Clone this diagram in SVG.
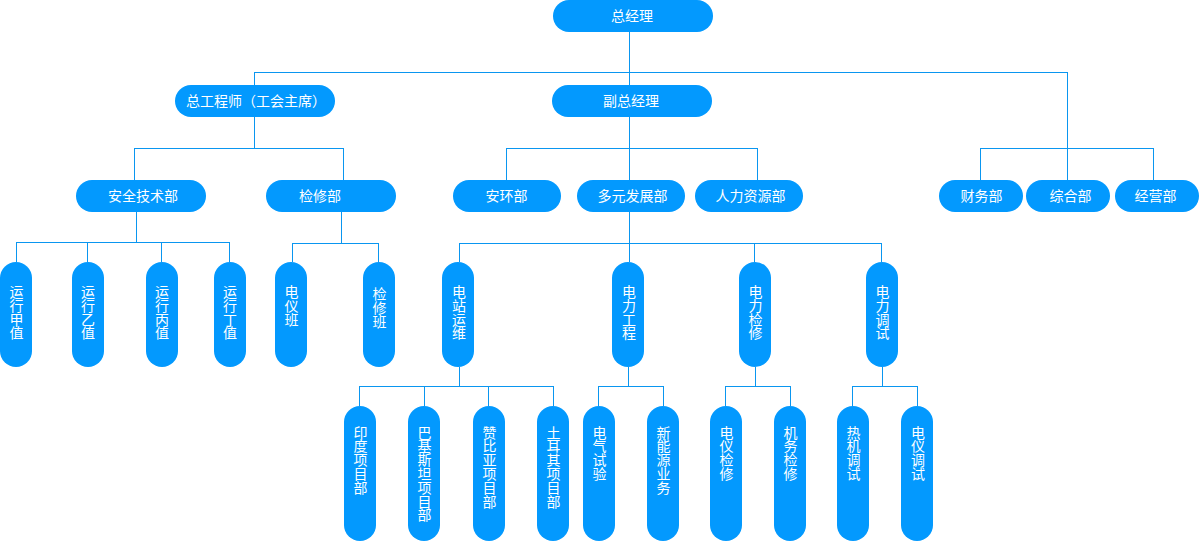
<svg xmlns="http://www.w3.org/2000/svg" width="1199" height="541" viewBox="0 0 1199 541">
<style>
.n{fill:#0399fe}
.t{fill:#fff;font-family:"Noto Sans CJK SC","Microsoft YaHei",sans-serif;font-size:14px;text-anchor:middle}
.c{fill:none;stroke:#0a96f0;stroke-width:1}
</style>
<rect width="1199" height="541" fill="#fff"/>
<g id="connectors" class="c">
<path d="M629.5 32V85M254.5 72.5H1067.5M254.5 72V85M1067.5 72V180"/>
<path d="M254.5 117V148.5M134.5 148.5H343.5M134.5 148V180M343.5 148V180"/>
<path d="M629.5 117V180M506.5 148.5H757.5M506.5 148V180M757.5 148V180"/>
<path d="M980.5 148.5H1153.5M980.5 148V180M1153.5 148V180"/>
<path d="M136.5 212V242.5M16.5 242.5H229.5M16.5 242V262M87.5 242V262M161.5 242V262M229.5 242V262"/>
<path d="M341.5 212V243.5M292.5 243.5H378.5M292.5 243V262M378.5 243V262"/>
<path d="M629.5 212V243.5M459.5 243.5H881.5M459.5 243V262M629.5 243V262M754.5 243V262M881.5 243V262"/>
<path d="M459.5 367V386.5M359.5 386.5H553.5M359.5 386V406M424.5 386V406M488.5 386V406M553.5 386V406"/>
<path d="M628.5 367V386.5M598.5 386.5H663.5M598.5 386V406M663.5 386V406"/>
<path d="M755.5 367V386.5M725.5 386.5H790.5M725.5 386V406M790.5 386V406"/>
<path d="M882.5 367V386.5M852.5 386.5H917.5M852.5 386V406M917.5 386V406"/>
</g>
<g id="n-zjl"><rect class="n" x="553" y="0" width="160" height="32" rx="16"/><text class="t" x="632" y="21">总经理</text></g>
<g id="n-zgcs"><rect class="n" x="175" y="85" width="160" height="32" rx="16"/><text class="t" x="256" y="106">总工程师（工会主席）</text></g>
<g id="n-fzjl"><rect class="n" x="552" y="85" width="160" height="32" rx="16"/><text class="t" x="631" y="106">副总经理</text></g>
<g id="n-aqjsb"><rect class="n" x="76" y="180" width="130" height="32" rx="16"/><text class="t" x="143" y="201">安全技术部</text></g>
<g id="n-jxb"><rect class="n" x="266" y="180" width="130" height="32" rx="16"/><text class="t" x="320" y="201">检修部</text></g>
<g id="n-ahb"><rect class="n" x="453" y="180" width="108" height="32" rx="16"/><text class="t" x="506.5" y="201">安环部</text></g>
<g id="n-dyfzb"><rect class="n" x="577" y="180" width="108" height="32" rx="16"/><text class="t" x="632.5" y="201">多元发展部</text></g>
<g id="n-rlzyb"><rect class="n" x="695" y="180" width="108" height="32" rx="16"/><text class="t" x="750.5" y="201">人力资源部</text></g>
<g id="n-cwb"><rect class="n" x="939" y="180" width="84" height="32" rx="16"/><text class="t" x="981.5" y="201">财务部</text></g>
<g id="n-zhb"><rect class="n" x="1026" y="180" width="84" height="32" rx="16"/><text class="t" x="1070.5" y="201">综合部</text></g>
<g id="n-jyb"><rect class="n" x="1115" y="180" width="84" height="32" rx="16"/><text class="t" x="1155.5" y="201">经营部</text></g>

<g id="n-yxjz"><rect class="n" x="0" y="262" width="32" height="105" rx="16"/><text class="t"><tspan x="16.5" y="297">运</tspan><tspan x="16.5" dy="13.8">行</tspan><tspan x="16.5" dy="13.8">甲</tspan><tspan x="16.5" dy="13.8">值</tspan></text></g>
<g id="n-yxyz"><rect class="n" x="72" y="262" width="32" height="105" rx="16"/><text class="t"><tspan x="88" y="297">运</tspan><tspan x="88" dy="13.8">行</tspan><tspan x="88" dy="13.8">乙</tspan><tspan x="88" dy="13.8">值</tspan></text></g>
<g id="n-yxbz"><rect class="n" x="146" y="262" width="32" height="105" rx="16"/><text class="t"><tspan x="162" y="297">运</tspan><tspan x="162" dy="13.8">行</tspan><tspan x="162" dy="13.8">丙</tspan><tspan x="162" dy="13.8">值</tspan></text></g>
<g id="n-yxdz"><rect class="n" x="214" y="262" width="32" height="105" rx="16"/><text class="t"><tspan x="230" y="297">运</tspan><tspan x="230" dy="13.8">行</tspan><tspan x="230" dy="13.8">丁</tspan><tspan x="230" dy="13.8">值</tspan></text></g>
<g id="n-dyb"><rect class="n" x="275" y="262" width="32" height="105" rx="16"/><text class="t"><tspan x="291.5" y="297">电</tspan><tspan x="291.5" dy="13.8">仪</tspan><tspan x="291.5" dy="13.8">班</tspan></text></g>
<g id="n-jxban"><rect class="n" x="363" y="262" width="32" height="105" rx="16"/><text class="t"><tspan x="379.5" y="299">检</tspan><tspan x="379.5" dy="13.8">修</tspan><tspan x="379.5" dy="13.8">班</tspan></text></g>
<g id="n-dzyw"><rect class="n" x="442" y="262" width="32" height="105" rx="16"/><text class="t"><tspan x="459" y="297">电</tspan><tspan x="459" dy="13.8">站</tspan><tspan x="459" dy="13.8">运</tspan><tspan x="459" dy="13.8">维</tspan></text></g>
<g id="n-dlgc"><rect class="n" x="612" y="262" width="32" height="105" rx="16"/><text class="t"><tspan x="629" y="297">电</tspan><tspan x="629" dy="13.8">力</tspan><tspan x="629" dy="13.8">工</tspan><tspan x="629" dy="13.8">程</tspan></text></g>
<g id="n-dljx"><rect class="n" x="739" y="262" width="32" height="105" rx="16"/><text class="t"><tspan x="755.5" y="297">电</tspan><tspan x="755.5" dy="13.8">力</tspan><tspan x="755.5" dy="13.8">检</tspan><tspan x="755.5" dy="13.8">修</tspan></text></g>
<g id="n-dlts"><rect class="n" x="866" y="262" width="32" height="105" rx="16"/><text class="t"><tspan x="882.5" y="297">电</tspan><tspan x="882.5" dy="13.8">力</tspan><tspan x="882.5" dy="13.8">调</tspan><tspan x="882.5" dy="13.8">试</tspan></text></g>

<g id="n-ydxmb"><rect class="n" x="344" y="406" width="32" height="135" rx="16"/><text class="t"><tspan x="360.5" y="437.5">印</tspan><tspan x="360.5" dy="13.8">度</tspan><tspan x="360.5" dy="13.8">项</tspan><tspan x="360.5" dy="13.8">目</tspan><tspan x="360.5" dy="13.8">部</tspan></text></g>
<g id="n-bjstxmb"><rect class="n" x="408" y="406" width="32" height="135" rx="16"/><text class="t"><tspan x="424.5" y="437.5">巴</tspan><tspan x="424.5" dy="13.8">基</tspan><tspan x="424.5" dy="13.8">斯</tspan><tspan x="424.5" dy="13.8">坦</tspan><tspan x="424.5" dy="13.8">项</tspan><tspan x="424.5" dy="13.8">目</tspan><tspan x="424.5" dy="13.8">部</tspan></text></g>
<g id="n-zbyxmb"><rect class="n" x="473" y="406" width="32" height="135" rx="16"/><text class="t"><tspan x="489.5" y="437.5">赞</tspan><tspan x="489.5" dy="13.8">比</tspan><tspan x="489.5" dy="13.8">亚</tspan><tspan x="489.5" dy="13.8">项</tspan><tspan x="489.5" dy="13.8">目</tspan><tspan x="489.5" dy="13.8">部</tspan></text></g>
<g id="n-teqxmb"><rect class="n" x="537" y="406" width="32" height="135" rx="16"/><text class="t"><tspan x="553.5" y="437.5">土</tspan><tspan x="553.5" dy="13.8">耳</tspan><tspan x="553.5" dy="13.8">其</tspan><tspan x="553.5" dy="13.8">项</tspan><tspan x="553.5" dy="13.8">目</tspan><tspan x="553.5" dy="13.8">部</tspan></text></g>
<g id="n-dqsy"><rect class="n" x="583" y="406" width="32" height="135" rx="16"/><text class="t"><tspan x="599.5" y="437.5">电</tspan><tspan x="599.5" dy="13.8">气</tspan><tspan x="599.5" dy="13.8">试</tspan><tspan x="599.5" dy="13.8">验</tspan></text></g>
<g id="n-xnyyw"><rect class="n" x="647" y="406" width="32" height="135" rx="16"/><text class="t"><tspan x="663.5" y="437.5">新</tspan><tspan x="663.5" dy="13.8">能</tspan><tspan x="663.5" dy="13.8">源</tspan><tspan x="663.5" dy="13.8">业</tspan><tspan x="663.5" dy="13.8">务</tspan></text></g>
<g id="n-dyjx"><rect class="n" x="710" y="406" width="32" height="135" rx="16"/><text class="t"><tspan x="726.5" y="437.5">电</tspan><tspan x="726.5" dy="13.8">仪</tspan><tspan x="726.5" dy="13.8">检</tspan><tspan x="726.5" dy="13.8">修</tspan></text></g>
<g id="n-jwjx"><rect class="n" x="774" y="406" width="32" height="135" rx="16"/><text class="t"><tspan x="790.5" y="437.5">机</tspan><tspan x="790.5" dy="13.8">务</tspan><tspan x="790.5" dy="13.8">检</tspan><tspan x="790.5" dy="13.8">修</tspan></text></g>
<g id="n-rjts"><rect class="n" x="837" y="406" width="32" height="135" rx="16"/><text class="t"><tspan x="853.5" y="437.5">热</tspan><tspan x="853.5" dy="13.8">机</tspan><tspan x="853.5" dy="13.8">调</tspan><tspan x="853.5" dy="13.8">试</tspan></text></g>
<g id="n-dyts"><rect class="n" x="901" y="406" width="32" height="135" rx="16"/><text class="t"><tspan x="918" y="437.5">电</tspan><tspan x="918" dy="13.8">仪</tspan><tspan x="918" dy="13.8">调</tspan><tspan x="918" dy="13.8">试</tspan></text></g>
</svg>
